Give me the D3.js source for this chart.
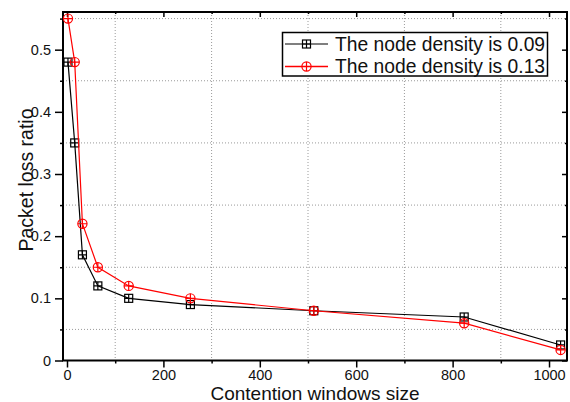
<!DOCTYPE html>
<html>
<head>
<meta charset="utf-8">
<script src="https://cdn.jsdelivr.net/npm/d3@7"></script>
<style>
  html, body { margin: 0; padding: 0; background: #fff; }
  svg { display: block; font-family: "Liberation Sans", Arial, sans-serif; }
</style>
</head>
<body>
<svg id="chart" width="570" height="402"></svg>
<script>
// Contention window sizes on the x axis
const windowSizes = [2, 16, 32, 64, 128, 256, 512, 824, 1024];
// Packet loss ratio for each node density
const lossDensity009 = [0.48, 0.35, 0.17, 0.12, 0.10, 0.09, 0.08, 0.07, 0.025];
const lossDensity013 = [0.55, 0.48, 0.22, 0.15, 0.12, 0.10, 0.08, 0.06, 0.017];
const seriesNames = ["The node density is 0.09", "The node density is 0.13"];
const xMajorTicks = [0, 200, 400, 600, 800, 1000];
const xMinorTicks = [100, 300, 500, 700, 900];
const yMajorTicks = [0, 0.1, 0.2, 0.3, 0.4, 0.5];
const yMinorTicks = [0.05, 0.15, 0.25, 0.35, 0.45, 0.55];

const svg = d3.select("#chart");
const plot = { left: 63, right: 567, top: 12, bottom: 360.5 };

const x = d3.scaleLinear().domain([-8.3, 1037.3]).range([plot.left, plot.right]);
const y = d3.scaleLinear().domain([0, 0.5606]).range([plot.bottom, plot.top]);

// dotted grid on the half-step positions
const grid = svg.append("g").attr("stroke", "#9a9a9a").attr("stroke-width", 1)
  .attr("stroke-dasharray", "1,2");
grid.selectAll("line.gx").data(xMinorTicks).join("line")
  .attr("x1", d => x(d)).attr("x2", d => x(d))
  .attr("y1", plot.top).attr("y2", plot.bottom);
grid.selectAll("line.gy").data(yMinorTicks).join("line")
  .attr("y1", d => y(d)).attr("y2", d => y(d))
  .attr("x1", plot.left).attr("x2", plot.right);

// axes: labelled bottom/left, tick-only top/right
const fmtY = d => d === 0 ? "0" : d3.format(".1f")(d);
const bottomAxis = svg.append("g").attr("transform", `translate(0,${plot.bottom})`)
  .call(d3.axisBottom(x).tickValues(xMajorTicks).tickSize(7).tickPadding(2).tickFormat(d3.format("d")));
const bottomMinor = svg.append("g").attr("transform", `translate(0,${plot.bottom})`)
  .call(d3.axisBottom(x).tickValues(xMinorTicks).tickSize(3).tickFormat(""));
const leftAxis = svg.append("g").attr("transform", `translate(${plot.left},0)`)
  .call(d3.axisLeft(y).tickValues(yMajorTicks).tickSize(8).tickPadding(4).tickFormat(fmtY));
const leftMinor = svg.append("g").attr("transform", `translate(${plot.left},0)`)
  .call(d3.axisLeft(y).tickValues(yMinorTicks).tickSize(3).tickFormat(""));
const topAxis = svg.append("g").attr("transform", `translate(0,${plot.top})`)
  .call(d3.axisBottom(x).tickValues(xMajorTicks).tickSize(5).tickFormat(""));
const topMinor = svg.append("g").attr("transform", `translate(0,${plot.top})`)
  .call(d3.axisBottom(x).tickValues(xMinorTicks).tickSize(2).tickFormat(""));
const rightAxis = svg.append("g").attr("transform", `translate(${plot.right},0)`)
  .call(d3.axisLeft(y).tickValues(yMajorTicks).tickSize(5).tickFormat(""));
const rightMinor = svg.append("g").attr("transform", `translate(${plot.right},0)`)
  .call(d3.axisLeft(y).tickValues(yMinorTicks).tickSize(2).tickFormat(""));

[bottomAxis, bottomMinor, leftAxis, leftMinor, topAxis, topMinor, rightAxis, rightMinor].forEach(g => {
  g.select(".domain").remove();
  g.selectAll(".tick line").attr("stroke", "#000").attr("stroke-width", 1.5);
  g.selectAll(".tick text").attr("fill", "#111").style("font-size", "14.5px")
    .style("font-family", '"Liberation Sans", Arial, sans-serif');
});

// frame
svg.append("rect")
  .attr("x", plot.left).attr("y", plot.top)
  .attr("width", plot.right - plot.left).attr("height", plot.bottom - plot.top)
  .attr("fill", "none").attr("stroke", "#000").attr("stroke-width", 2);

// markers
function squareMarker(g, cx, cy, color) {
  const s = 4;
  g.append("rect").attr("x", cx - s).attr("y", cy - s).attr("width", 2 * s).attr("height", 2 * s)
    .attr("fill", "none").attr("stroke", color).attr("stroke-width", 1.2);
  g.append("path").attr("d", `M${cx - s},${cy}H${cx + s}M${cx},${cy - s}V${cy + s}`)
    .attr("stroke", color).attr("stroke-width", 1.2);
}
function circleMarker(g, cx, cy, color) {
  const r = 4.6;
  g.append("circle").attr("cx", cx).attr("cy", cy).attr("r", r)
    .attr("fill", "none").attr("stroke", color).attr("stroke-width", 1.2);
  g.append("path").attr("d", `M${cx - r},${cy}H${cx + r}M${cx},${cy - r}V${cy + r}`)
    .attr("stroke", color).attr("stroke-width", 1.2);
}

const series = [
  { values: lossDensity009, color: "#000", marker: squareMarker },
  { values: lossDensity013, color: "#ff0000", marker: circleMarker }
];

const line = d3.line().x(d => x(d[0])).y(d => y(d[1]));
series.forEach(s => {
  const pts = windowSizes.map((w, i) => [w, s.values[i]]);
  svg.append("path").datum(pts).attr("d", line)
    .attr("fill", "none").attr("stroke", s.color).attr("stroke-width", 1.2);
  const mg = svg.append("g");
  pts.forEach(p => s.marker(mg, x(p[0]), y(p[1]), s.color));
});

// axis titles
svg.append("text")
  .attr("x", 315).attr("y", 399.5)
  .attr("text-anchor", "middle").style("font-size", "19px").attr("fill", "#111")
  .text("Contention windows size");
svg.append("text")
  .attr("transform", "translate(33,180) rotate(-90)")
  .attr("text-anchor", "middle").style("font-size", "19.5px").attr("fill", "#111")
  .text("Packet loss ratio");

// legend
const legend = svg.append("g");
legend.append("rect").attr("x", 282.5).attr("y", 32.5).attr("width", 265).attr("height", 43.5)
  .attr("fill", "#fff").attr("stroke", "#000").attr("stroke-width", 1.5);
const rowsY = [44, 66.5];
series.forEach((s, i) => {
  const yy = rowsY[i];
  legend.append("line").attr("x1", 285).attr("x2", 328).attr("y1", yy).attr("y2", yy)
    .attr("stroke", i === 0 ? "#555" : s.color).attr("stroke-width", 1.5);
  s.marker(legend, 306.5, yy, s.color);
  legend.append("text").attr("x", 335).attr("y", yy + 6.8)
    .style("font-size", "19.3px").attr("fill", "#111").text(seriesNames[i]);
});
</script>
</body>
</html>
